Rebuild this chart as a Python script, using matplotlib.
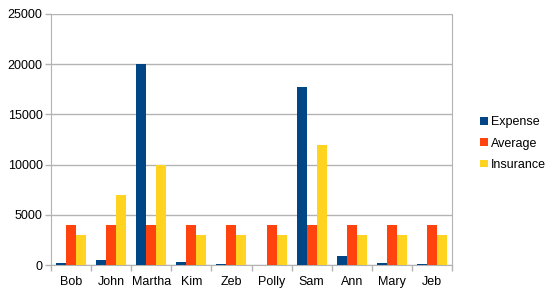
import matplotlib
matplotlib.use("Agg")
import matplotlib.pyplot as plt
import numpy as np

categories = ["Bob", "John", "Martha", "Kim", "Zeb", "Polly", "Sam", "Ann", "Mary", "Jeb"]
expense = [200, 500, 20000, 300, 50, 0, 17700, 900, 200, 100]
average = [4000, 4000, 4000, 4000, 4000, 4000, 4000, 4000, 4000, 4000]
insurance = [3000, 7000, 10000, 3000, 3000, 3000, 12000, 3000, 3000, 3000]
series_names = ["Expense", "Average", "Insurance"]
colors = ["#004586", "#ff420e", "#ffd320"]

plt.rcParams['font.family'] = ['Liberation Sans', 'DejaVu Sans']
fig = plt.figure(figsize=(5.51, 2.97), dpi=100)
L, R, T, B = 51, 452, 14, 265
ax = fig.add_axes([L/551, 1 - B/297, (R-L)/551, (B-T)/297])

x = np.arange(len(categories))
w = 0.25
for i, (vals, name, c) in enumerate(zip([expense, average, insurance], series_names, colors)):
    ax.bar(x + (i - 1) * w, vals, width=w, color=c, label=name, zorder=3)

ax.set_xlim(-0.5, len(categories) - 0.5)
ax.set_ylim(0, 25000)
ax.set_yticks(np.arange(0, 25001, 5000))
ax.yaxis.grid(True, color="#b3b3b3", linewidth=1, zorder=0)
ax.set_xticks(x)
ax.set_xticklabels(categories, fontsize=9)
ax.set_xticks(np.arange(-0.5, len(categories)), minor=True)
ax.tick_params(axis="x", which="major", length=0, pad=8)
ax.tick_params(axis="x", which="minor", length=4.5, color="#b3b3b3", width=1)
ax.tick_params(axis="y", length=4, color="#b3b3b3", width=1, labelsize=9, pad=2)
for s in ["left", "bottom", "right"]:
    ax.spines[s].set_color("#b3b3b3")
ax.spines["top"].set_visible(False)

ax.legend(loc="center left", bbox_to_anchor=(1.07, 0.484), frameon=False, fontsize=9,
          handlelength=0.6, handleheight=0.6, handletextpad=0.3, labelspacing=0.75,
          borderaxespad=0, borderpad=0)

fig.savefig("out.png", dpi=100)
